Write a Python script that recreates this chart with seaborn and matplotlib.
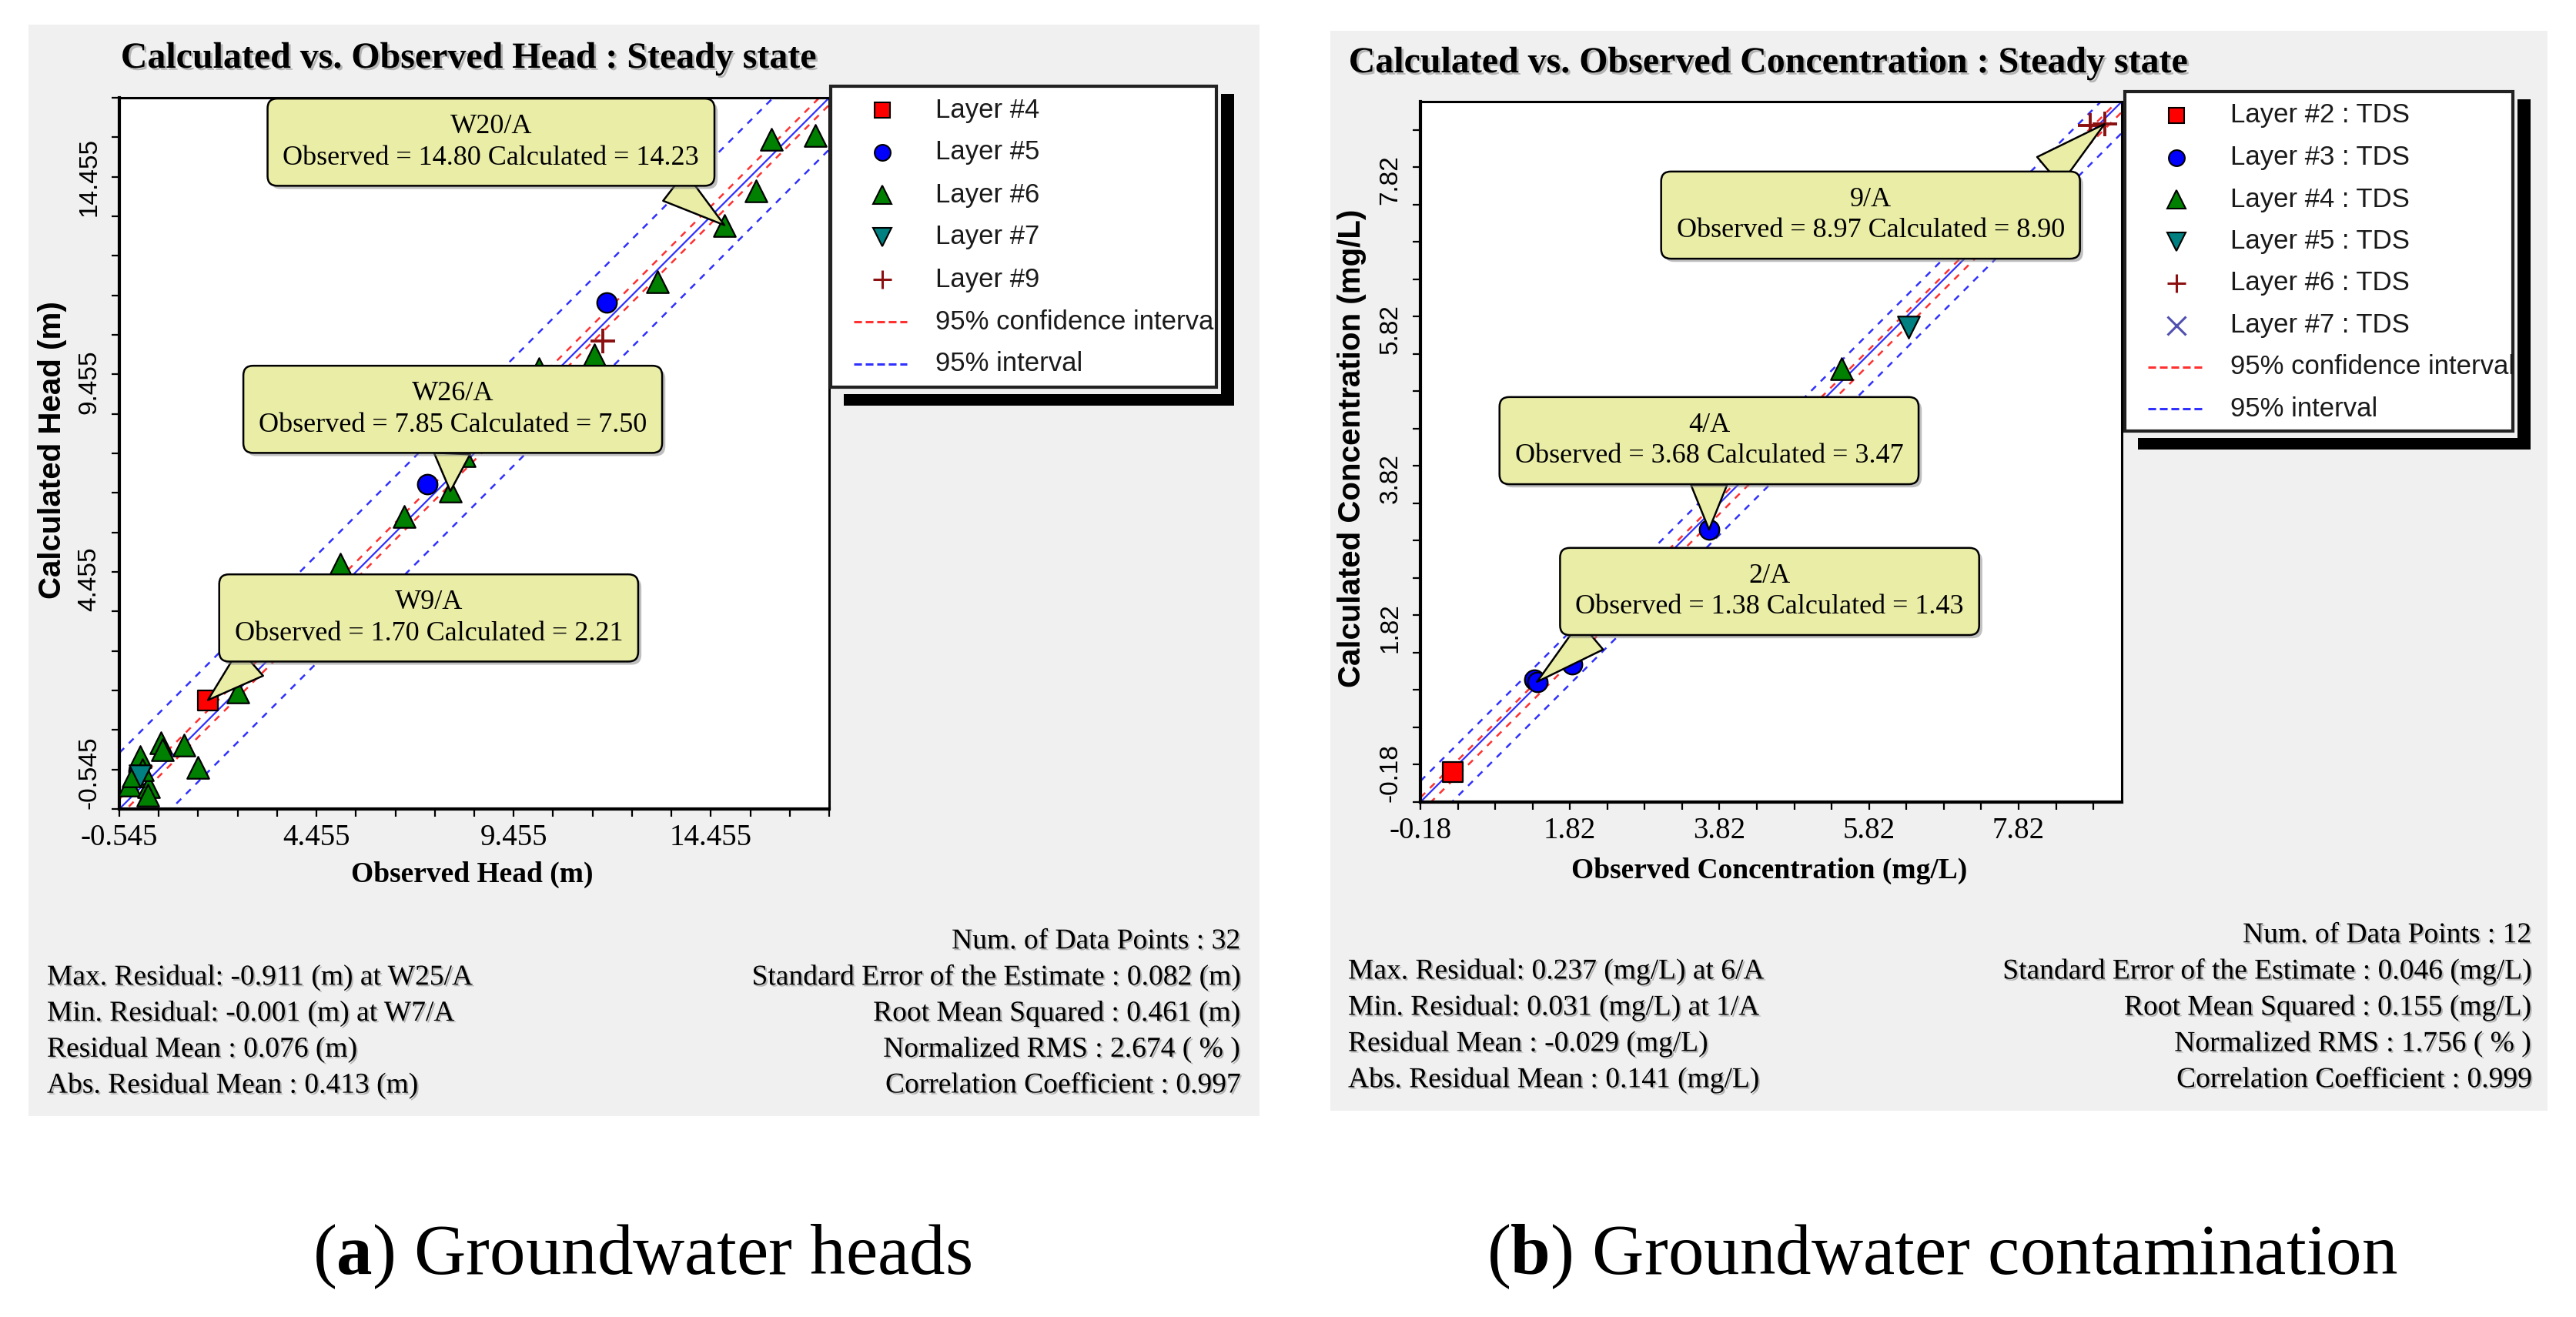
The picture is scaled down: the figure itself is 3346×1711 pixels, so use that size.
import matplotlib
matplotlib.use("Agg")
import numpy as np
import pandas as pd
import matplotlib.pyplot as plt
import matplotlib.patheffects as pe
from matplotlib.patches import Rectangle
from matplotlib.lines import Line2D
from matplotlib.ticker import FixedLocator
import seaborn as sns

################ Data : groundwater heads ################
head_layers = ["Layer #4", "Layer #5", "Layer #6", "Layer #7", "Layer #9"]
head_layer = (["Layer #4"] + ["Layer #5"] * 3 + ["Layer #6"] * 22
              + ["Layer #7"] + ["Layer #9"])
head_obs = [1.70,
            11.81, 7.27, -0.05,
            17.10, 16.00, 15.60, 14.80, 13.10, 11.50, 10.10, 8.20, 7.85, 6.67, 5.05, 2.46,
            0.51, 0.55, 1.10, -0.02, 1.45, -0.29, 0.20, 0.18, 0.05, -0.20,
            -0.02,
            11.72]
head_calc = [2.21,
             12.28, 7.68, 0.40,
             16.50, 16.40, 15.10, 14.23, 12.80, 10.95, 10.60, 8.40, 7.50, 6.85, 5.65, 2.42,
             1.13, 0.95, 1.07, 0.78, 0.51, 0.06, 0.02, -0.19, 0.45, 0.30,
             0.29,
             11.30]
head_lim = [-0.545, 17.455]
head_ticks = [-0.545, 4.455, 9.455, 14.455]
head_minor_step = 1.0
head_conf = [0.25, -0.18]      # 95% confidence interval offsets
head_pred = [1.42, -1.31]      # 95% interval offsets
head_call_well = ["W20/A", "W26/A", "W9/A"]
head_call_obs = [14.80, 7.85, 1.70]
head_call_calc = [14.23, 7.50, 2.21]
head_call_box = [(8.88, 16.33), (7.91, 9.57), (7.30, 4.29)]
head_call_rel = [(0.89, 0.0), (0.5, 0.0), (0.09, 0.0)]
head_stats_left = ["Max. Residual: -0.911 (m) at W25/A", "Min. Residual: -0.001 (m) at W7/A",
                   "Residual Mean : 0.076 (m)", "Abs. Residual Mean : 0.413 (m)"]
head_stats_right = ["Num. of Data Points : 32", "Standard Error of the Estimate : 0.082 (m)",
                    "Root Mean Squared : 0.461 (m)", "Normalized RMS : 2.674 ( % )",
                    "Correlation Coefficient : 0.997"]

################ Data : concentration ################
conc_layers = ["Layer #2 : TDS", "Layer #3 : TDS", "Layer #4 : TDS",
               "Layer #5 : TDS", "Layer #6 : TDS", "Layer #7 : TDS"]
conc_layer = (["Layer #2 : TDS"] + ["Layer #3 : TDS"] * 4 + ["Layer #4 : TDS"]
              + ["Layer #5 : TDS"] + ["Layer #6 : TDS"] * 2)
conc_obs = [0.25, 1.34, 1.38, 1.85, 3.68, 5.45, 6.35, 8.78, 8.97]
conc_calc = [0.22, 1.46, 1.43, 1.66, 3.47, 5.62, 6.18, 8.88, 8.90]
conc_lim = [-0.18, 9.2]
conc_ticks = [-0.18, 1.82, 3.82, 5.82, 7.82]
conc_minor_step = 0.5
conc_conf = [0.06, -0.14]
conc_pred = [0.28, -0.42]
conc_call_well = ["9/A", "4/A", "2/A"]
conc_call_obs = [8.97, 3.68, 1.38]
conc_call_calc = [8.90, 3.47, 1.43]
conc_call_box = [(5.84, 7.68), (3.68, 4.66), (4.49, 2.64)]
conc_call_rel = [(0.91, 1.0), (0.5, 0.0), (0.09, 0.0)]
conc_stats_left = ["Max. Residual: 0.237 (mg/L) at 6/A", "Min. Residual: 0.031 (mg/L) at 1/A",
                   "Residual Mean : -0.029 (mg/L)", "Abs. Residual Mean : 0.141 (mg/L)"]
conc_stats_right = ["Num. of Data Points : 12", "Standard Error of the Estimate : 0.046 (mg/L)",
                    "Root Mean Squared : 0.155 (mg/L)", "Normalized RMS : 1.756 ( % )",
                    "Correlation Coefficient : 0.999"]

################ Styles ################
marker_of = {"Layer #4": "s", "Layer #5": "o", "Layer #6": "^", "Layer #7": "v", "Layer #9": "+",
             "Layer #2 : TDS": "s", "Layer #3 : TDS": "o", "Layer #4 : TDS": "^",
             "Layer #5 : TDS": "v", "Layer #6 : TDS": "+", "Layer #7 : TDS": "x"}
color_of = {"Layer #4": "#FF0000", "Layer #5": "#0000FF", "Layer #6": "#008000",
            "Layer #7": "#008080", "Layer #9": "#8B1010",
            "Layer #2 : TDS": "#FF0000", "Layer #3 : TDS": "#0000FF", "Layer #4 : TDS": "#008000",
            "Layer #5 : TDS": "#008080", "Layer #6 : TDS": "#8B1010", "Layer #7 : TDS": "#5050B0"}
CALLOUT = "#EAEDA6"
PANEL = "#F0F0F0"
SERIF = ["Liberation Serif", "DejaVu Serif"]
SANS = ["Liberation Sans", "DejaVu Sans"]

sns.set_style("white")
plt.rcParams["font.family"] = SERIF
plt.rcParams["text.color"] = "black"
plt.rcParams["axes.labelcolor"] = "black"
plt.rcParams["xtick.color"] = "black"
plt.rcParams["ytick.color"] = "black"
plt.rcParams["mathtext.fontset"] = "custom"
plt.rcParams["mathtext.rm"] = "Liberation Serif"
plt.rcParams["mathtext.bf"] = "Liberation Serif:bold"

W, H = 3346, 1711
fig = plt.figure(figsize=(W / 100, H / 100), dpi=100)
fig.patch.set_facecolor("white")


def fx(x):
    return x / W


def fy(y):
    return 1 - y / H


def add_rect(x0, y0, x1, y1, **kw):
    r = Rectangle((fx(x0), fy(y1)), (x1 - x0) / W, (y1 - y0) / H,
                  transform=fig.transFigure, **kw)
    fig.add_artist(r)
    return r


def text_shadow(d=1.5):
    return [pe.SimplePatchShadow(offset=(d, -d), shadow_rgbFace="0.55", alpha=0.6), pe.Normal()]


def draw_panel(axbox, df, layers, lim, ticks, minor_step, conf, pred,
               xlabel, ylabel, ylab_x, xlab_y, call_well, call_obs, call_calc, call_box, call_rel):
    x0, y0, x1, y1 = axbox
    ax = fig.add_axes([fx(x0), fy(y1), (x1 - x0) / W, (y1 - y0) / H])
    ax.set_facecolor("white")
    ax.set_zorder(1)

    # 1:1 line and interval lines
    xs = np.array(lim)
    sns.lineplot(x=xs, y=xs, ax=ax, color="#3030FF", lw=1.6, legend=False, zorder=2)
    for off in conf:
        sns.lineplot(x=xs, y=xs + off, ax=ax, color="#FF3030", lw=1.8,
                     linestyle=(0, (3.5, 3.5)), legend=False, zorder=2)
    for off in pred:
        sns.lineplot(x=xs, y=xs + off, ax=ax, color="#3030FF", lw=1.8,
                     linestyle=(0, (3.5, 3.5)), legend=False, zorder=2)

    # observation points, one layer at a time
    for lay in layers:
        sub = df[df["layer"] == lay]
        if sub.empty:
            continue
        m = marker_of[lay]
        if m in ("+", "x"):
            sns.scatterplot(data=sub, x="obs", y="calc", ax=ax, marker=m, color=color_of[lay],
                            s=520, linewidth=2.8, legend=False, zorder=4, clip_on=True)
        else:
            sns.scatterplot(data=sub, x="obs", y="calc", ax=ax, marker=m, color=color_of[lay],
                            s=420 if m in ("^", "v") else 340, edgecolor="black",
                            linewidth=1.6, legend=False, zorder=4, clip_on=True)

    ax.set_xlim(lim)
    ax.set_ylim(lim)
    minor = np.arange(lim[0], lim[1] + 1e-6, minor_step)
    ax.xaxis.set_major_locator(FixedLocator(ticks))
    ax.yaxis.set_major_locator(FixedLocator(ticks))
    ax.xaxis.set_minor_locator(FixedLocator(minor))
    ax.yaxis.set_minor_locator(FixedLocator(minor))
    labels = [f"{t:g}" for t in ticks]
    ax.set_xticklabels(labels, fontsize=28, family=SERIF)
    ax.set_yticklabels(labels, fontsize=24, family=SANS, rotation=90, va="bottom")
    ax.tick_params(which="both", bottom=True, left=True, direction="out",
                   length=7, width=1.6, color="black")
    ax.tick_params(axis="x", pad=7)
    ax.tick_params(axis="y", pad=10)
    for side in ["left", "bottom", "top", "right"]:
        ax.spines[side].set_color("black")
        ax.spines[side].set_linewidth(3 if side in ("left", "bottom") else 2.2)

    ax.set_xlabel(xlabel, fontsize=27, fontweight="bold", family=SERIF, va="center")
    ax.xaxis.set_label_coords(0.497, xlab_y)
    ax.set_ylabel(ylabel, fontsize=29, fontweight="bold", family=SANS, va="center")
    ax.yaxis.set_label_coords(ylab_x, 0.505)

    # callouts
    for well, ob, ca, box, rel in zip(call_well, call_obs, call_calc, call_box, call_rel):
        ann = ax.annotate(f"{well}\nObserved = {ob:.2f} Calculated = {ca:.2f}",
                          xy=(ob, ca), xytext=box, textcoords="data",
                          ha="center", va="center", multialignment="center",
                          fontsize=26, linespacing=1.3, zorder=10,
                          bbox=dict(boxstyle="round,pad=0.55,rounding_size=0.35",
                                    fc=CALLOUT, ec="black", lw=1.8),
                          arrowprops=dict(arrowstyle="wedge,tail_width=1.3,shrink_factor=0.5",
                                          fc=CALLOUT, ec="black", lw=1.8, relpos=rel,
                                          shrinkA=0, shrinkB=0))
        ann.get_bbox_patch().set_path_effects(
            [pe.SimplePatchShadow(offset=(3, -3), shadow_rgbFace="0.5", alpha=0.5), pe.Normal()])
    return ax


def draw_legend(box, layers, line_x, marker_x, text_x, row_y, dy):
    x0, y0, x1, y1 = box
    # black drop shadow bars (right and bottom)
    add_rect(x1 + 6, y0 + 10, x1 + 23, y1 + 24, fc="black", ec="none", zorder=19)
    add_rect(x0 + 17, y1 + 9, x1 + 23, y1 + 24, fc="black", ec="none", zorder=19)
    frame = add_rect(x0, y0, x1, y1, fc="white", ec="#222222", lw=3, zorder=20)
    y = row_y
    for lay in layers:
        m = marker_of[lay]
        filled = m not in ("+", "x")
        fig.add_artist(Line2D([fx(marker_x)], [fy(y)], transform=fig.transFigure, marker=m,
                              ms=17 if m in ("^", "v", "+", "x") else 15, ls="none",
                              mfc=color_of[lay] if filled else "none",
                              mec="black" if filled else color_of[lay],
                              mew=1.5 if filled else 2.2, zorder=21))
        t = fig.text(fx(text_x), fy(y), lay, fontsize=25, family=SANS, color="#1a1a1a",
                     ha="left", va="center", zorder=21)
        t.set_clip_path(frame)
        y += dy
    for lab, col in [("95% confidence interval", "#FF3030"), ("95% interval", "#3030FF")]:
        fig.add_artist(Line2D([fx(line_x[0]), fx(line_x[1])], [fy(y), fy(y)],
                              transform=fig.transFigure, color=col, lw=2.2,
                              ls=(0, (3.3, 1.6)), zorder=21))
        t = fig.text(fx(text_x), fy(y), lab, fontsize=25, family=SANS, color="#1a1a1a",
                     ha="left", va="center", zorder=21)
        t.set_clip_path(frame)
        y += dy


def draw_stats(left_x, right_x, first_y, dy, left_lines, right_lines):
    for i, s in enumerate(right_lines):
        fig.text(fx(right_x), fy(first_y + i * dy), s, fontsize=27, ha="right", va="center",
                 family=SERIF, path_effects=text_shadow())
    for i, s in enumerate(left_lines):
        fig.text(fx(left_x), fy(first_y + (i + 1) * dy), s, fontsize=27, ha="left", va="center",
                 family=SERIF, path_effects=text_shadow())


################ Gray panels ################
add_rect(37, 32, 1636, 1450, fc=PANEL, ec="none", zorder=-1)
add_rect(1728, 40, 3309, 1443, fc=PANEL, ec="none", zorder=-1)

head_df = pd.DataFrame({"layer": head_layer, "obs": head_obs, "calc": head_calc})
conc_df = pd.DataFrame({"layer": conc_layer, "obs": conc_obs, "calc": conc_calc})

draw_panel((155, 127, 1077, 1051), head_df, head_layers, head_lim, head_ticks, head_minor_step,
           head_conf, head_pred, "Observed Head (m)", "Calculated Head (m)", -0.094, -0.093,
           head_call_well, head_call_obs, head_call_calc, head_call_box, head_call_rel)
draw_panel((1845, 132, 2756, 1042), conc_df, conc_layers, conc_lim, conc_ticks, conc_minor_step,
           conc_conf, conc_pred, "Observed Concentration (mg/L)", "Calculated Concentration (mg/L)",
           -0.098, -0.098,
           conc_call_well, conc_call_obs, conc_call_calc, conc_call_box, conc_call_rel)

################ Titles ################
fig.text(fx(608), fy(76), "Calculated vs. Observed Head : Steady state", fontsize=34.5,
         fontweight="bold", ha="center", va="center", family=SERIF, path_effects=text_shadow(2))
fig.text(fx(2296), fy(82), "Calculated vs. Observed Concentration : Steady state", fontsize=34.5,
         fontweight="bold", ha="center", va="center", family=SERIF, path_effects=text_shadow(2))

################ Legends ################
draw_legend((1079, 112, 1580, 503), head_layers, (1109, 1178), 1146, 1215, 143, 55)
draw_legend((2760, 119, 3264, 560), conc_layers, (2790, 2860), 2827, 2897, 150, 54.5)

################ Statistics ################
draw_stats(61, 1611, 1223, 46.8, head_stats_left, head_stats_right)
draw_stats(1751, 3288, 1215, 47.0, conc_stats_left, conc_stats_right)

################ Captions ################
fig.text(fx(834), fy(1633), r"($\mathbf{a}$) Groundwater heads", fontsize=67,
         ha="center", va="center", family=SERIF)
fig.text(fx(2523), fy(1633), r"($\mathbf{b}$) Groundwater contamination", fontsize=67,
         ha="center", va="center", family=SERIF)

fig.savefig("out.png", dpi=100, facecolor="white")
